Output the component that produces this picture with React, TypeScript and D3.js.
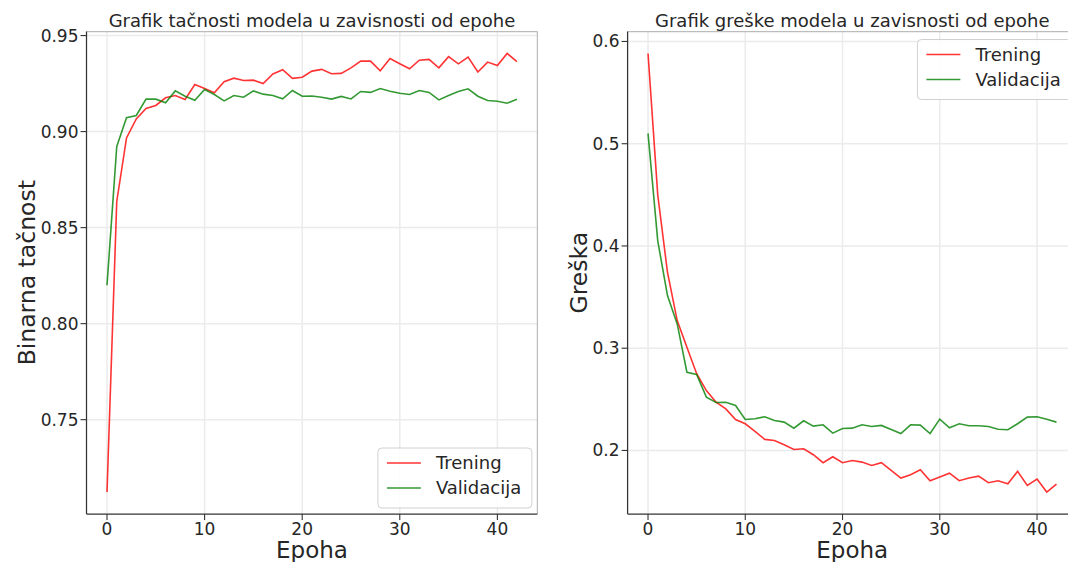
import React from "react";
import * as d3 from "d3";

const epochs: number[] = d3.range(0, 43);

const accTrain: number[] = [
  0.7123, 0.8636, 0.8967, 0.9066, 0.912, 0.9136, 0.9176, 0.9188, 0.9167, 0.9245,
  0.9224, 0.9202, 0.926, 0.9278, 0.9266, 0.9268, 0.925, 0.93, 0.9322, 0.9277,
  0.9283, 0.9315, 0.9324, 0.9301, 0.9303, 0.9332, 0.9367, 0.9367, 0.9317, 0.9381,
  0.9353, 0.9327, 0.9372, 0.9376, 0.9332, 0.939, 0.9353, 0.9388, 0.931, 0.9362,
  0.9344, 0.9407, 0.9364,
];
const accVal: number[] = [
  0.82, 0.8923, 0.9072, 0.9084, 0.9169, 0.9169, 0.915, 0.9212, 0.9184, 0.9163,
  0.9219, 0.9193, 0.916, 0.9188, 0.9179, 0.9212, 0.9195, 0.9188, 0.9171, 0.9214,
  0.9184, 0.9185, 0.9179, 0.9169, 0.9183, 0.917, 0.9209, 0.9204, 0.9224, 0.921,
  0.92, 0.9193, 0.9214, 0.9204, 0.9165, 0.9188, 0.9209, 0.9223, 0.9184, 0.9162,
  0.9158, 0.9148, 0.9169,
];
const lossTrain: number[] = [
  0.5883, 0.45, 0.3743, 0.327, 0.301, 0.275, 0.2586, 0.2472, 0.2407, 0.2303,
  0.2261, 0.2186, 0.2108, 0.2098, 0.2056, 0.201, 0.2016, 0.1958, 0.188, 0.1938,
  0.188, 0.1902, 0.1886, 0.1853, 0.188, 0.1804, 0.173, 0.1762, 0.1811, 0.1704,
  0.174, 0.1778, 0.1704, 0.173, 0.1749, 0.1684, 0.1704, 0.1674, 0.1795, 0.1658,
  0.172, 0.1593, 0.1671,
];
const lossVal: number[] = [
  0.5101, 0.405, 0.3515, 0.3238, 0.2765, 0.2743, 0.2521, 0.2469, 0.2472, 0.244,
  0.2303, 0.231, 0.233, 0.2293, 0.2277, 0.2218, 0.229, 0.2238, 0.2251, 0.2169,
  0.2215, 0.2218, 0.2251, 0.2235, 0.2245, 0.2205, 0.2166, 0.2251, 0.2248, 0.2166,
  0.2306, 0.2222, 0.2261, 0.2241, 0.2241, 0.2235, 0.2208, 0.2202, 0.2261, 0.2326,
  0.2329, 0.2306, 0.2277,
];

const xTicks: number[] = [0, 10, 20, 30, 40];
const accTicks: number[] = [0.75, 0.8, 0.85, 0.9, 0.95];
const lossTicks: number[] = [0.2, 0.3, 0.4, 0.5, 0.6];
const seriesNames: string[] = ["Trening", "Validacija"];
const seriesColors: string[] = ["#ff0000", "#008000"];

const FONT = "'DejaVu Sans', sans-serif";

type PanelProps = {
  left: number;
  right: number;
  top: number;
  bottom: number;
  title: string;
  ylabel: string;
  yTicks: number[];
  yFmt: string;
  series: number[][];
  legendPos: "lower right" | "upper right";
  ylabelX: number;
};

function pad(ext: [number, number]): [number, number] {
  const r = ext[1] - ext[0];
  return [ext[0] - r * 0.05, ext[1] + r * 0.05];
}

function Panel(p: PanelProps) {
  const xExt = d3.extent(epochs) as [number, number];
  const x = d3.scaleLinear().domain(pad(xExt)).range([p.left, p.right]);
  const all = p.series.flat();
  const yExt = d3.extent(all) as [number, number];
  const y = d3.scaleLinear().domain(pad(yExt)).range([p.bottom, p.top]);
  const fmt = d3.format(p.yFmt);
  const line = d3
    .line<number>()
    .x((_, i) => x(epochs[i]))
    .y((d) => y(d));
  const cx = (p.left + p.right) / 2;
  const cy = (p.top + p.bottom) / 2;
  const lw = 154;
  const lh = 60;
  const lx = p.right - 5.5 - lw;
  const ly = p.legendPos === "lower right" ? p.bottom - 6 - lh : p.top + 8;
  const clipId = "clip" + Math.round(p.left);
  return (
    <g>
      <defs>
        <clipPath id={clipId}>
          <rect x={p.left} y={p.top} width={p.right - p.left} height={p.bottom - p.top} />
        </clipPath>
      </defs>
      {xTicks.map((t) => (
        <line key={"gx" + t} x1={x(t)} x2={x(t)} y1={p.top} y2={p.bottom} stroke="#ebebeb" strokeWidth={1.5} />
      ))}
      {p.yTicks.map((t) => (
        <line key={"gy" + t} x1={p.left} x2={p.right} y1={y(t)} y2={y(t)} stroke="#ebebeb" strokeWidth={1.5} />
      ))}
      <g clipPath={`url(#${clipId})`}>
        {p.series.map((s, i) => (
          <path key={i} d={line(s) || ""} fill="none" stroke={seriesColors[i]} strokeOpacity={0.8} strokeWidth={1.6} />
        ))}
      </g>
      <line x1={p.left} x2={p.right} y1={p.top} y2={p.top} stroke="#bcbcbc" strokeWidth={1.25} />
      <line x1={p.right} x2={p.right} y1={p.top} y2={p.bottom} stroke="#bcbcbc" strokeWidth={1.25} />
      <line x1={p.left} x2={p.right} y1={p.bottom} y2={p.bottom} stroke="#333" strokeWidth={1.25} />
      <line x1={p.left} x2={p.left} y1={p.top} y2={p.bottom} stroke="#333" strokeWidth={1.25} />
      {xTicks.map((t) => (
        <g key={"tx" + t}>
          <line x1={x(t)} x2={x(t)} y1={p.bottom} y2={p.bottom + 6} stroke="#333" strokeWidth={1.1} />
          <text x={x(t)} y={p.bottom + 21} textAnchor="middle" fontSize={17} fill="#262626" fontFamily={FONT}>
            {t}
          </text>
        </g>
      ))}
      {p.yTicks.map((t) => (
        <g key={"ty" + t}>
          <line x1={p.left - 6} x2={p.left} y1={y(t)} y2={y(t)} stroke="#333" strokeWidth={1.1} />
          <text x={p.left - 8} y={y(t) + 6} textAnchor="end" fontSize={17} fill="#262626" fontFamily={FONT}>
            {fmt(t)}
          </text>
        </g>
      ))}
      <text x={cx} y={27} textAnchor="middle" fontSize={18} fill="#262626" fontFamily={FONT}>
        {p.title}
      </text>
      <text x={cx} y={p.bottom + 44} textAnchor="middle" fontSize={23} fill="#262626" fontFamily={FONT}>
        Epoha
      </text>
      <text
        transform={`translate(${p.ylabelX},${cy}) rotate(-90)`}
        textAnchor="middle"
        fontSize={23.5}
        fill="#262626"
        fontFamily={FONT}
      >
        {p.ylabel}
      </text>
      <g>
        <rect x={lx} y={ly} width={lw} height={lh} rx={4} fill="#ffffff" fillOpacity={0.85} stroke="#d0d0d0" strokeWidth={1} />
        {seriesNames.map((n, i) => (
          <g key={n}>
            <line
              x1={lx + 9}
              x2={lx + 43}
              y1={ly + 15 + i * 25}
              y2={ly + 15 + i * 25}
              stroke={seriesColors[i]}
              strokeOpacity={0.8}
              strokeWidth={1.6}
            />
            <text x={lx + 58} y={ly + 21 + i * 25} fontSize={18} fill="#262626" fontFamily={FONT}>
              {n}
            </text>
          </g>
        ))}
      </g>
    </g>
  );
}

export default function App() {
  return (
    <svg
      width={1068}
      height={562}
      style={{ position: "absolute", left: 0, top: 0, background: "#ffffff" }}
    >
      <rect x={0} y={0} width={1068} height={562} fill="#ffffff" />
      <Panel
        left={86.5}
        right={537.4}
        top={31.5}
        bottom={514}
        title="Grafik tačnosti modela u zavisnosti od epohe"
        ylabel="Binarna tačnost"
        yTicks={accTicks}
        yFmt=".2f"
        series={[accTrain, accVal]}
        legendPos="lower right"
        ylabelX={35}
      />
      <Panel
        left={627.6}
        right={1076.9}
        top={31.5}
        bottom={514}
        title="Grafik greške modela u zavisnosti od epohe"
        ylabel="Greška"
        yTicks={lossTicks}
        yFmt=".1f"
        series={[lossTrain, lossVal]}
        legendPos="upper right"
        ylabelX={587}
      />
    </svg>
  );
}
